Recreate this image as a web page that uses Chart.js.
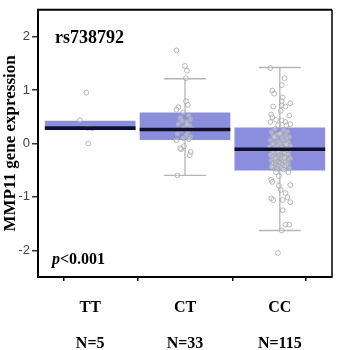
<!DOCTYPE html>
<html>
<head>
<meta charset="utf-8">
<script src="https://cdn.jsdelivr.net/npm/chart.js@4.4.1/dist/chart.umd.min.js"></script>
<style>
  html, body { margin: 0; padding: 0; background: #fff; }
  #wrap { width: 350px; height: 350px; }
</style>
</head>
<body>
<div id="wrap"><canvas id="grafico" width="350" height="350"></canvas></div>
<script>
// genotipos e tamanhos de amostra
const genotipos = ['TT', 'CT', 'CC'];
const nAmostra = [5, 33, 115];

// estatisticas do boxplot
const q1 = [0.26, 0.07, -0.50];
const mediana = [0.285, 0.26, -0.11];
const q3 = [0.42, 0.57, 0.29];
const bigodeBaixo = [null, -0.60, -1.63];
const bigodeAlto = [null, 1.21, 1.42];

// pontos individuais: [deslocamento horizontal, valor]
const pontosTT = [[-0.04, 0.95], [-0.11, 0.43], [0.02, 0.28], [-0.03, 0.29], [-0.02, 0.0]];
const pontosCT = [
  [-0.09, 1.74], [0.00, 1.45], [0.02, 1.36], [0.01, 1.22], [0.01, 0.79], [0.03, 0.72],
  [-0.07, 0.68], [-0.09, 0.63], [-0.02, 0.58], [0.04, 0.52], [-0.05, 0.48], [0.06, 0.45],
  [-0.03, 0.42], [0.02, 0.40], [-0.07, 0.36], [0.05, 0.33], [-0.01, 0.30], [0.08, 0.27],
  [-0.04, 0.24], [0.03, 0.21], [-0.08, 0.18], [0.01, 0.15], [0.06, 0.12], [-0.02, 0.10],
  [0.04, 0.08], [-0.09, 0.06], [-0.01, -0.05], [-0.04, -0.11], [-0.05, -0.09],
  [0.06, -0.16], [0.05, -0.22], [-0.08, -0.60], [0.02, 0.35]
];
const pontosCC = [
  [-0.10, 1.41], [0.05, 1.22], [0.02, 1.09], [-0.08, 0.99], [-0.06, 0.93], [0.03, 0.86],
  [0.02, 0.79], [0.11, 0.75], [-0.07, 0.69], [0.02, 0.71], [0.06, 0.69], [0.01, 0.61],
  [-0.09, 0.54], [0.10, 0.52], [-0.08, 0.49], [-0.04, 0.44], [0.02, 0.43], [0.06, 0.40],
  [-0.10, 0.40], [0.11, 0.36], [-0.02, 0.34], [0.07, 0.34],
  [-0.05, 0.27], [0.04, 0.25], [0.08, 0.22], [-0.09, 0.21], [0.01, 0.19], [-0.03, 0.17],
  [0.06, 0.15], [-0.07, 0.14], [0.10, 0.12], [0.02, 0.11], [-0.04, 0.09], [0.07, 0.08],
  [-0.10, 0.06], [0.03, 0.05], [-0.01, 0.03], [0.09, 0.02], [-0.06, 0.01], [0.05, -0.01],
  [-0.08, -0.02], [0.00, -0.03], [0.11, -0.04], [-0.03, -0.05], [0.06, -0.06], [-0.11, -0.07],
  [0.02, -0.08], [-0.05, -0.09], [0.08, -0.10], [-0.02, -0.10], [0.04, -0.11], [-0.09, -0.12],
  [0.01, -0.12], [0.10, -0.13], [-0.06, -0.14], [0.03, -0.15], [-0.01, -0.16], [0.07, -0.17],
  [-0.08, -0.18], [0.05, -0.19], [-0.04, -0.20], [0.09, -0.21], [-0.10, -0.22], [0.00, -0.23],
  [0.06, -0.24], [-0.07, -0.25], [0.03, -0.26], [-0.03, -0.27], [0.11, -0.28], [-0.05, -0.29],
  [0.02, -0.30], [0.08, -0.31], [-0.09, -0.32], [0.04, -0.33], [-0.02, -0.34], [0.06, -0.35],
  [-0.06, -0.36], [0.01, -0.37], [0.09, -0.38], [-0.08, -0.39], [0.03, -0.40], [-0.04, -0.41],
  [0.07, -0.42], [-0.01, -0.43], [0.05, -0.44], [-0.07, -0.45], [0.02, -0.46], [0.10, -0.47],
  [-0.03, -0.48], [0.04, -0.49], [-0.06, 0.12], [0.07, -0.02], [-0.02, -0.14], [0.05, -0.27],
  [-0.09, -0.44], [0.00, 0.18],
  [-0.04, -0.54], [0.09, -0.54], [-0.01, -0.61], [-0.09, -0.68], [-0.08, -0.72], [-0.01, -0.79],
  [0.11, -0.78], [0.01, -0.87], [0.06, -0.93], [0.08, -1.01], [-0.09, -1.03], [-0.07, -1.06],
  [0.03, -1.06], [0.11, -1.10], [0.03, -1.25], [0.06, -1.52], [0.10, -1.52], [0.02, -1.63],
  [-0.02, -2.05]
];
const todosPontos = [pontosTT, pontosCT, pontosCC];

const yTicks = [-2, -1, 0, 1, 2];

// monta os datasets a partir dos arrays
const posicoes = genotipos.map((g, i) => i + 1);
const caixas = posicoes.map((x, i) => ({ x: x, y: [q1[i], q3[i]] }));
const linhasMediana = posicoes.map((x, i) => ({ x: x, y: [mediana[i] - 0.028, mediana[i] + 0.028] }));

const bigodes = [];
posicoes.forEach((x, i) => {
  if (bigodeAlto[i] === null) return;
  const cap = 0.22;
  bigodes.push({ x: x, y: q3[i] }, { x: x, y: bigodeAlto[i] }, { x: x, y: null });
  bigodes.push({ x: x - cap, y: bigodeAlto[i] }, { x: x + cap, y: bigodeAlto[i] }, { x: x, y: null });
  bigodes.push({ x: x, y: q1[i] }, { x: x, y: bigodeBaixo[i] }, { x: x, y: null });
  bigodes.push({ x: x - cap, y: bigodeBaixo[i] }, { x: x + cap, y: bigodeBaixo[i] }, { x: x, y: null });
});

const dispersao = [];
todosPontos.forEach((lista, i) => {
  lista.forEach(p => dispersao.push({ x: posicoes[i] + p[0], y: p[1] }));
});

// textos e moldura
const textosExtras = {
  id: 'textosExtras',
  afterDraw(chart) {
    const { ctx, chartArea } = chart;
    ctx.save();
    ctx.strokeStyle = '#000';
    ctx.lineWidth = 2;
    ctx.beginPath();
    ctx.moveTo(chartArea.left - 1, chartArea.top);
    ctx.lineTo(chartArea.right, chartArea.top);
    ctx.stroke();
    ctx.lineWidth = 1.5;
    ctx.beginPath();
    ctx.moveTo(chartArea.right, chartArea.top);
    ctx.lineTo(chartArea.right, chartArea.bottom);
    ctx.stroke();

    ctx.fillStyle = '#000';
    ctx.textBaseline = 'alphabetic';
    ctx.font = 'bold 18px "Liberation Serif", "Times New Roman", serif';
    ctx.fillText('rs738792', 55, 43);

    ctx.font = 'italic bold 16px "Liberation Serif", "Times New Roman", serif';
    ctx.fillText('p', 52, 264);
    const wp = ctx.measureText('p').width;
    ctx.font = 'bold 16px "Liberation Serif", "Times New Roman", serif';
    ctx.fillText('<0.001', 52 + wp, 264);
    ctx.restore();
  }
};

new Chart(document.getElementById('grafico'), {
  type: 'bar',
  data: {
    datasets: [
      {
        type: 'line',
        data: bigodes,
        borderColor: '#b4b4b4',
        borderWidth: 1.3,
        pointRadius: 0,
        spanGaps: false,
        order: 4
      },
      {
        data: caixas,
        backgroundColor: '#8a8edc',
        borderWidth: 0,
        barThickness: 90,
        grouped: false,
        order: 3
      },
      {
        type: 'scatter',
        data: dispersao,
        pointRadius: 2.4,
        pointBorderWidth: 1,
        pointBorderColor: 'rgba(165,165,170,0.8)',
        pointBackgroundColor: 'rgba(255,255,255,0.3)',
        order: 2
      },
      {
        data: linhasMediana,
        backgroundColor: '#10102e',
        borderWidth: 0,
        barThickness: 90,
        grouped: false,
        order: 1
      }
    ]
  },
  options: {
    responsive: false,
    animation: false,
    layout: { padding: { top: 4, right: 5, left: 0, bottom: 0 } },
    plugins: { legend: { display: false }, tooltip: { enabled: false } },
    scales: {
      x: {
        type: 'linear',
        min: 0.45,
        max: 3.55,
        offset: false,
        afterBuildTicks(scale) {
          scale.ticks = [{ value: 0.45 }].concat(posicoes.map(v => ({ value: v })), [{ value: 3.55 }]);
        },
        afterFit(scale) { scale.height = 73; },
        grid: { drawOnChartArea: false, drawTicks: true, tickLength: 4, color: '#000', lineWidth: 1.5 },
        border: { color: '#000', width: 2 },
        ticks: {
          autoSkip: false,
          maxRotation: 0,
          padding: 18,
          color: '#000',
          font: { family: '"Liberation Serif", "Times New Roman", serif', size: 16, weight: 'bold', lineHeight: 1.11 },
          callback(value) {
            const i = posicoes.indexOf(value);
            if (i < 0) return '';
            return [genotipos[i], '', 'N=' + nAmostra[i]];
          }
        }
      },
      y: {
        min: -2.5,
        max: 2.5,
        afterBuildTicks(scale) {
          scale.ticks = yTicks.map(v => ({ value: v }));
        },
        afterFit(scale) { scale.width = 38; },
        grid: { drawOnChartArea: false, drawTicks: true, tickLength: 6, color: '#333', lineWidth: 1.5 },
        border: { color: '#000', width: 2 },
        ticks: {
          padding: 2,
          color: '#444',
          font: { family: '"Liberation Sans", Arial, sans-serif', size: 13 }
        },
        title: {
          display: true,
          text: 'MMP11 gene expression',
          color: '#000',
          padding: { top: 0, bottom: 0 },
          font: { family: '"Liberation Serif", "Times New Roman", serif', size: 17, weight: 'bold', lineHeight: 1.2 }
        }
      }
    }
  },
  plugins: [textosExtras]
});
</script>
</body>
</html>
